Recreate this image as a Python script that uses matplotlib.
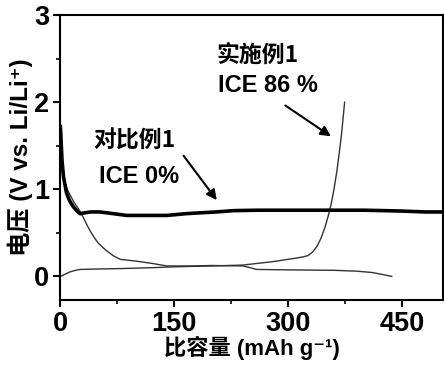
# Recreation of the ICE comparison plot (first cycle voltage profiles)

import matplotlib.pyplot as plt

plt.rcParams['font.family'] = ['Liberation Sans', 'Noto Sans CJK SC', 'DejaVu Sans']

# 对比例1 - thick curve
cmp_cap = [0, 1, 2, 4, 8, 12, 17, 22, 26, 32, 40, 52, 70, 87, 110, 140, 165, 184, 205, 228, 260, 300, 350, 400, 450, 480, 503]
cmp_v = [1.72, 1.55, 1.35, 1.15, 0.96, 0.87, 0.80, 0.75, 0.72, 0.73, 0.74, 0.74, 0.72, 0.70, 0.70, 0.70, 0.72, 0.73, 0.74, 0.755, 0.76, 0.76, 0.76, 0.76, 0.75, 0.74, 0.74]

# 实施例1 discharge
dis_cap = [0, 2, 5, 10, 18, 25, 30, 35, 40, 45, 50, 60, 70, 79, 90, 100, 120, 140, 170, 200, 240, 250, 258, 300, 360, 390, 410, 425, 436]
dis_v = [1.45, 1.25, 1.10, 0.98, 0.85, 0.76, 0.68, 0.59, 0.51, 0.44, 0.38, 0.30, 0.235, 0.195, 0.185, 0.175, 0.15, 0.12, 0.12, 0.125, 0.12, 0.10, 0.08, 0.075, 0.07, 0.06, 0.045, 0.02, 0.0]

# 实施例1 charge
chg_cap = [0, 5, 12, 20, 26, 50, 80, 120, 150, 200, 240, 280, 310, 320, 326, 332, 338, 343, 348, 352, 356, 360, 364, 367, 370, 372, 374]
chg_v = [0.0, 0.02, 0.05, 0.07, 0.08, 0.085, 0.09, 0.10, 0.11, 0.12, 0.13, 0.17, 0.21, 0.225, 0.24, 0.28, 0.35, 0.44, 0.56, 0.68, 0.82, 1.0, 1.22, 1.42, 1.64, 1.82, 2.0]

fig = plt.figure(figsize=(4.44, 3.68), dpi=100)
ax = fig.add_axes([0.136, 0.185, 0.861, 0.774])

ax.plot(dis_cap, dis_v, color='#333333', lw=1.0)
ax.plot(chg_cap, chg_v, color='#333333', lw=1.0)
ax.plot(cmp_cap, cmp_v, color='black', lw=2.6)

ax.set_xlim(0, 503)
ax.set_ylim(-0.27, 3.0)
ax.set_xticks([0, 150, 300, 450])
ax.set_xticks([75, 225, 375], minor=True)
ax.set_yticks([0, 1, 2, 3])
ax.set_yticks([0.5, 1.5, 2.5], minor=True)
ax.tick_params(which='major', length=5, width=1.5, labelsize=19.5, pad=3)
ax.tick_params(which='minor', length=3, width=1.2)
for lab in ax.get_xticklabels() + ax.get_yticklabels():
    lab.set_fontweight('bold')
for s in ax.spines.values():
    s.set_linewidth(1.5)

ax.set_xlabel('比容量 (mAh g⁻¹)', fontsize=16, fontweight='bold', labelpad=-1)
ax.set_ylabel('电压 (V vs. Li/Li⁺)', fontsize=17.5, fontweight='bold', labelpad=1)

cjk = ['Noto Sans CJK SC', 'DejaVu Sans']
ax.text(260, 2.54, '实施例1', fontsize=16.5, fontweight='bold', family=cjk, ha='center', va='center')
ax.text(273, 2.19, 'ICE 86 %', fontsize=17, fontweight='bold', ha='center', va='center')
ax.annotate('', xy=(359, 1.59), xytext=(293, 1.98),
            arrowprops=dict(arrowstyle='-|>', color='black', lw=1.5, mutation_scale=15))

ax.text(98, 1.55, '对比例1', fontsize=16.5, fontweight='bold', family=cjk, ha='center', va='center')
ax.text(103, 1.15, 'ICE 0%', fontsize=17, fontweight='bold', ha='center', va='center')
ax.annotate('', xy=(208, 0.85), xytext=(160, 1.41),
            arrowprops=dict(arrowstyle='-|>', color='black', lw=1.5, mutation_scale=15))

fig.savefig('out.png', dpi=100)
